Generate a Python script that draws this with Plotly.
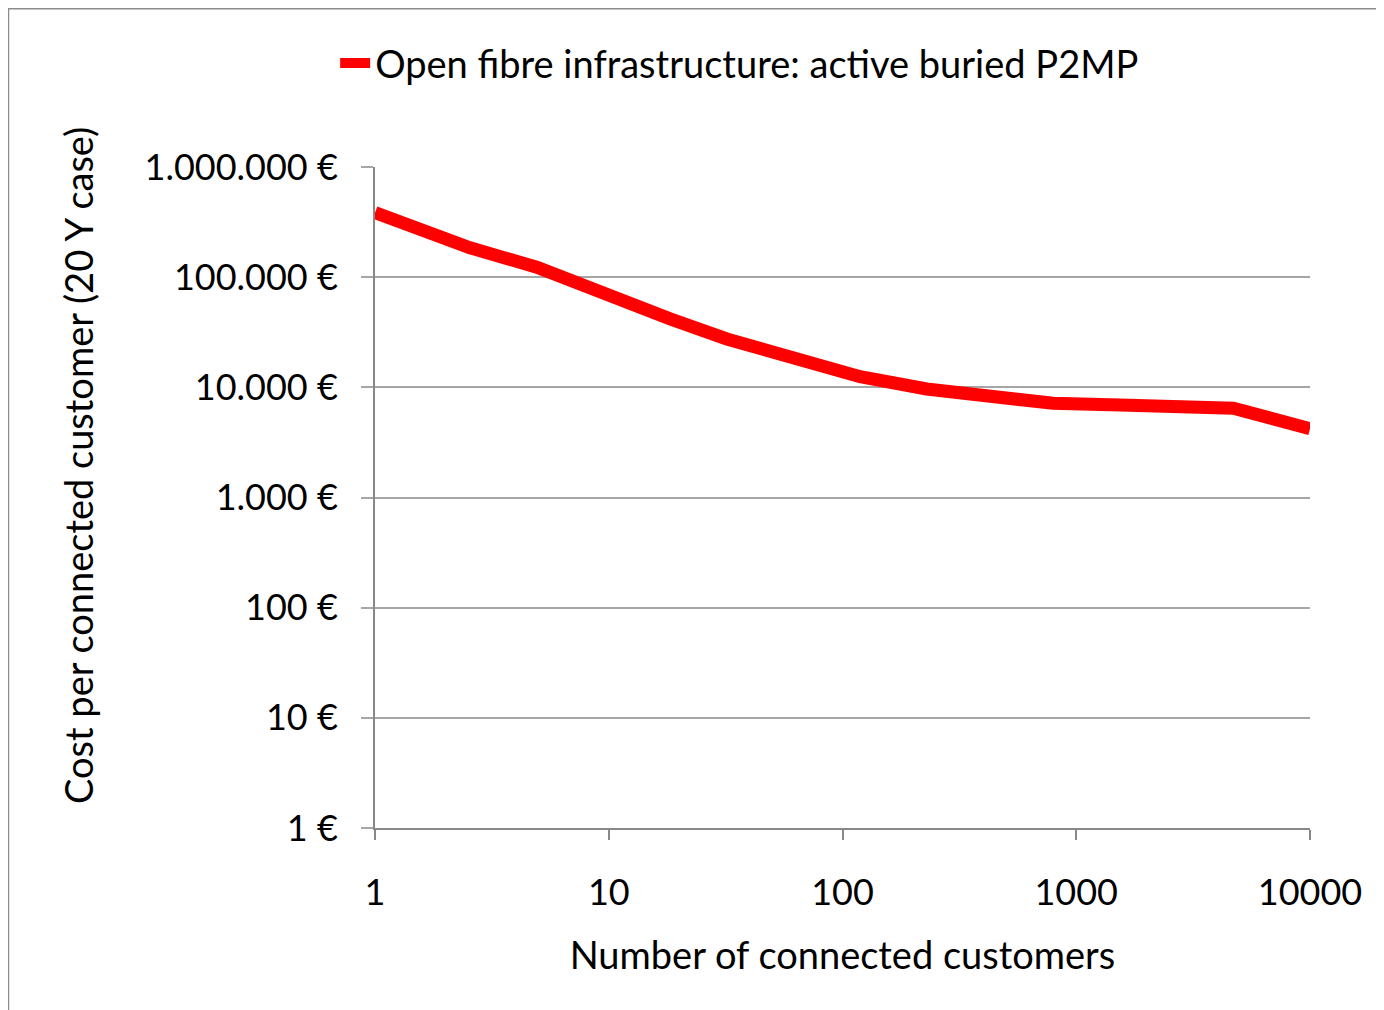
import plotly.graph_objects as go

# values (log-log)
customers = [1, 1.56, 2.55, 4.92, 6.83, 11.2, 18.3, 32, 61.6, 119, 229, 414, 795,
             1540, 2800, 3000, 4700, 10000]
cost_per_customer = [385000, 266000, 185000, 123000, 93300, 63700, 41900, 27500, 18100,
                     12500, 9660, 8110, 7160, 6900, 6850, 6470, 6470, 4200]

series_name = "Open fibre infrastructure: active buried P2MP"
x_ticks = [1, 10, 100, 1000, 10000]
x_labels = ["1", "10", "100", "1000", "10000"]
y_ticks = [1, 10, 100, 1000, 10000, 100000, 1000000]
y_labels = ["1 €", "10 €", "100 €", "1.000 €", "10.000 €", "100.000 €", "1.000.000 €"]

FONT = "Lato, 'Open Sans', sans-serif"
GRID = "#a6a6a6"
AXIS = "#888888"

fig = go.Figure()
fig.add_trace(go.Scatter(
    x=customers, y=cost_per_customer, mode="lines", name=series_name,
    line=dict(color="#ff0000", width=13),
))

fig.update_layout(
    width=1384, height=1010,
    margin=dict(l=367, r=82, t=159, b=190),
    paper_bgcolor="white", plot_bgcolor="white",
    font=dict(family=FONT, size=36, color="black"),
    showlegend=True,
    legend=dict(orientation="h", x=0.39, xanchor="center", y=1.157, yanchor="middle",
                font=dict(size=38), bgcolor="rgba(0,0,0,0)"),
    xaxis=dict(
        type="log", range=[0, 4], tickvals=x_ticks, ticktext=x_labels,
        showgrid=False, showline=True, linecolor=AXIS, linewidth=2,
        ticks="outside", ticklen=10, tickcolor=AXIS, tickwidth=1.5,
        ticklabelstandoff=22, zeroline=False,
        title=dict(text="Number of connected customers", standoff=30, font=dict(size=38)),
    ),
    yaxis=dict(
        type="log", range=[0, 6], tickvals=y_ticks, ticktext=y_labels,
        showgrid=True, gridcolor=GRID, gridwidth=1.5,
        showline=True, linecolor=AXIS, linewidth=2,
        ticks="outside", ticklen=12, tickcolor=GRID, tickwidth=1.5,
        ticklabelstandoff=16, zeroline=False,
    ),
    annotations=[dict(
        text="Cost per connected customer (20 Y case)", textangle=-90,
        xref="paper", yref="paper", x=-0.3176, y=0.5477, xanchor="center", yanchor="middle",
        showarrow=False, font=dict(size=38),
    )],
    shapes=[dict(
        type="rect", xref="paper", yref="paper", x0=-0.392, x1=1.2, y0=-0.4, y1=1.2394,
        line=dict(color="#8c8c8c", width=1.5), fillcolor="rgba(0,0,0,0)", layer="below",
    )],
)

fig.write_html("out.html")
